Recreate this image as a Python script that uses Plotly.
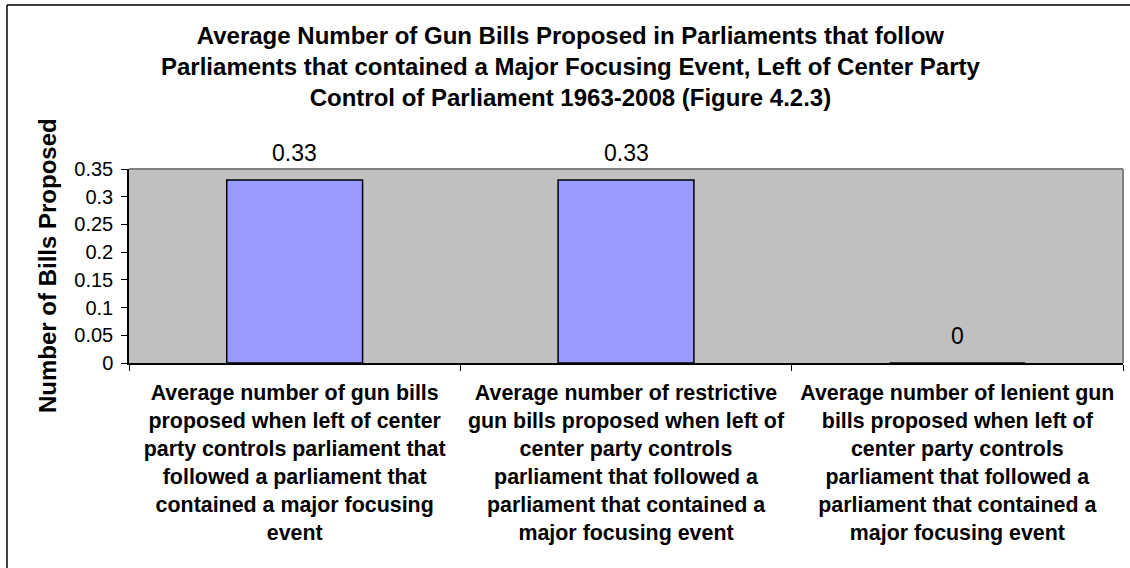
import plotly.graph_objects as go

categories = [
    "Average number of gun bills<br>proposed when left of center<br>party controls parliament that<br>followed a parliament that<br>contained a major focusing<br>event",
    "Average number of restrictive<br>gun bills proposed when left of<br>center party controls<br>parliament that followed a<br>parliament that contained a<br>major focusing event",
    "Average number of lenient gun<br>bills proposed when left of<br>center party controls<br>parliament that followed a<br>parliament that contained a<br>major focusing event",
]
values = [0.33, 0.33, 0]
value_labels = ["0.33", "0.33", "0"]
y_ticks = [0, 0.05, 0.1, 0.15, 0.2, 0.25, 0.3, 0.35]
y_tick_text = ["0", "0.05", "0.1", "0.15", "0.2", "0.25", "0.3", "0.35"]

title_text = ("Average Number of Gun Bills Proposed in Parliaments that follow<br>"
              "Parliaments that contained a Major Focusing Event, Left of Center Party<br>"
              "Control of Parliament 1963-2008 (Figure 4.2.3)")
y_title = "Number of Bills Proposed"

FONT = "Arial, 'Liberation Sans', sans-serif"
W, H = 1130, 568
L, R, T, B = 129, 7, 169, 205
pw = W - L - R
ph = H - T - B

def px_to_paper_x(px):
    return (px - L) / pw

def px_to_paper_y(py):
    return (H - B - py) / ph

fig = go.Figure()
fig.add_trace(go.Bar(
    x=categories, y=values, width=0.41,
    marker=dict(color="#9999FF", line=dict(color="black", width=1.5)),
    hoverinfo="skip",
))

annotations = []
for c, v, t in zip(categories, values, value_labels):
    annotations.append(dict(x=c, y=v, xref="x", yref="y", text=t, showarrow=False,
                            yanchor="bottom", yshift=12,
                            font=dict(family=FONT, size=23, color="black")))
annotations.append(dict(x=px_to_paper_x(570), y=1, xref="paper", yref="paper",
                        text="<b>" + title_text + "</b>", showarrow=False,
                        xanchor="center", yanchor="bottom", yshift=56,
                        font=dict(family=FONT, size=24, color="black")))
annotations.append(dict(x=px_to_paper_x(47), y=0.5, xref="paper", yref="paper",
                        text="<b>" + y_title + "</b>", showarrow=False, textangle=-90,
                        xanchor="center", yanchor="middle",
                        font=dict(family=FONT, size=24, color="black")))

shapes = [
    dict(type="line", xref="paper", yref="paper", x0=0, x1=1, y0=1, y1=1,
         line=dict(color="#808080", width=2)),
    dict(type="line", xref="paper", yref="paper", x0=1, x1=1, y0=0, y1=1,
         line=dict(color="#808080", width=2)),
    # outer chart border (only top and left edges fall inside the picture)
    dict(type="line", xref="paper", yref="paper",
         x0=px_to_paper_x(7), x1=px_to_paper_x(1130),
         y0=px_to_paper_y(5), y1=px_to_paper_y(5),
         line=dict(color="black", width=1.5)),
    dict(type="line", xref="paper", yref="paper",
         x0=px_to_paper_x(7), x1=px_to_paper_x(7),
         y0=px_to_paper_y(5), y1=px_to_paper_y(568),
         line=dict(color="black", width=1.5)),
]

fig.update_layout(
    width=W, height=H,
    margin=dict(l=L, r=R, t=T, b=B, autoexpand=False),
    paper_bgcolor="white", plot_bgcolor="#C0C0C0",
    showlegend=False,
    annotations=annotations, shapes=shapes,
)
fig.update_xaxes(
    type="category", tickson="boundaries", ticks="outside", ticklen=6,
    tickcolor="black", showline=True, linecolor="black", linewidth=1.5,
    showgrid=False, tickfont=dict(family=FONT, size=21.4, color="black", weight="bold"),
    ticklabelstandoff=10, automargin=False,
)
fig.update_yaxes(
    range=[0, 0.35], tickvals=y_ticks, ticktext=y_tick_text, ticks="outside", ticklen=6,
    tickcolor="black", showline=True, linecolor="black", linewidth=1.5,
    showgrid=False, zeroline=False,
    tickfont=dict(family=FONT, size=20, color="black"), ticklabelstandoff=4,
    automargin=False,
)
fig.write_html(
    "out.html",
    config={"displayModeBar": False},
    post_script="document.body.style.margin='0px';document.body.style.overflow='hidden';",
)
